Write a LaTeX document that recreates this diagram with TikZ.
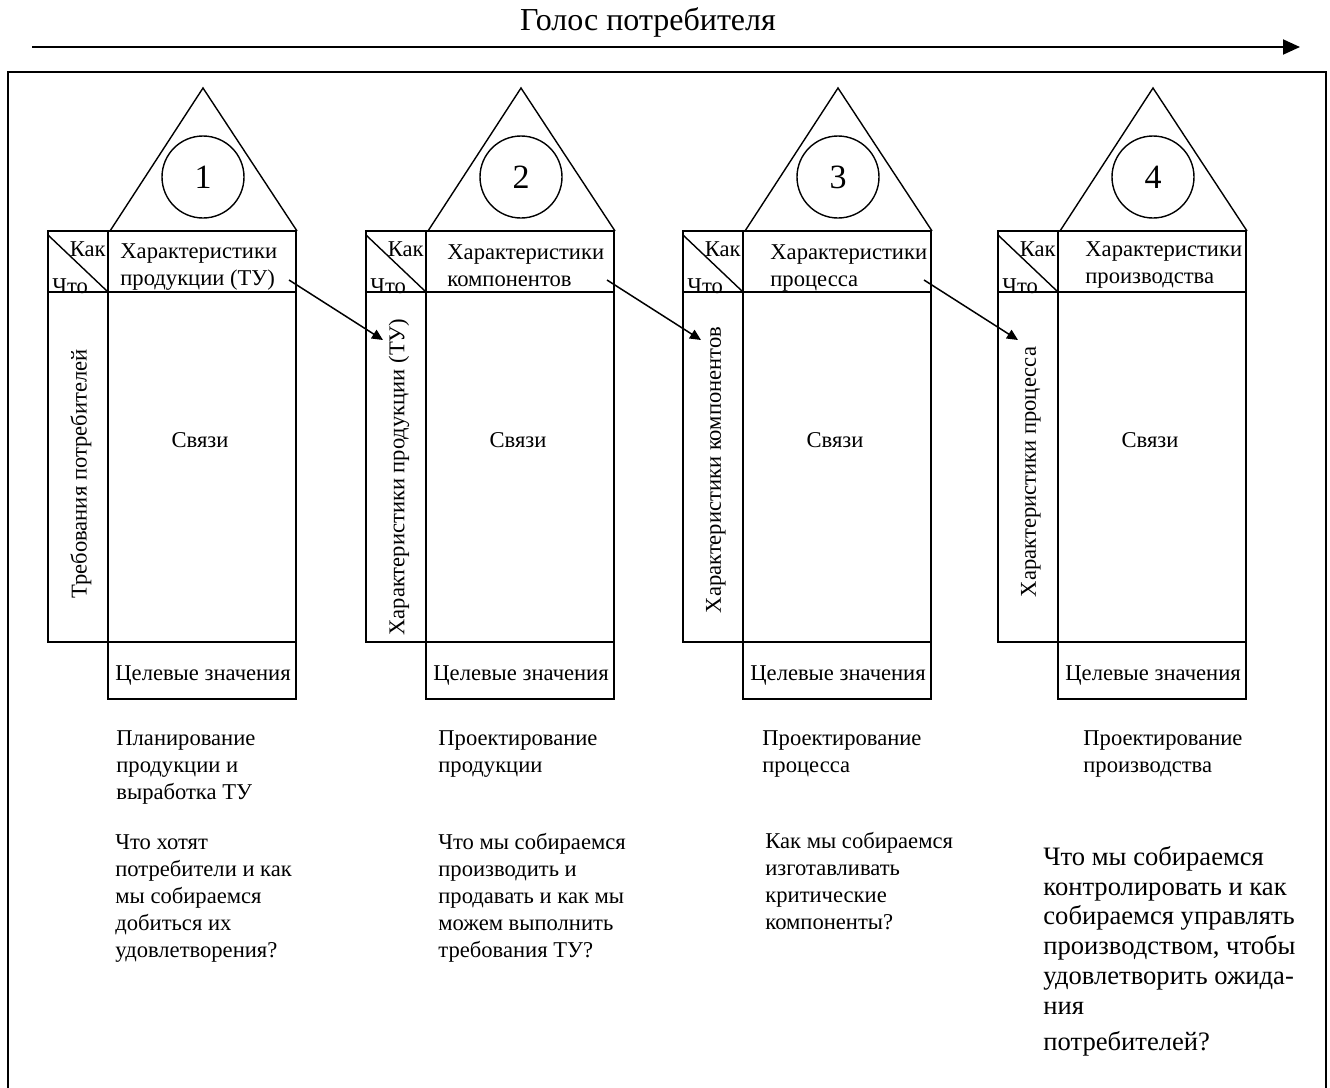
\documentclass[tikz,border=0pt]{standalone}
\usepackage{fontspec}
\setmainfont{Liberation Serif}
\usetikzlibrary{arrows.meta}
\usetikzlibrary{calc}

\tikzset{
 cell/.style={draw,line width=1pt},
 roof/.style={draw,line width=.7pt},
 txt/.style={font=\fontsize{11.3}{13.4}\selectfont,inner sep=0pt,align=left,anchor=base west},
 bigtxt/.style={txt,font=\fontsize{13.3}{14.9}\selectfont},
 link/.style={line width=.75pt,-{Triangle[length=5.5pt,width=5pt]}},
}

\begin{document}
\begin{tikzpicture}[x=.5pt,y=-.5pt]
\useasboundingbox (0,0) rectangle (1330,1088);
\draw[line width=1pt] (8,1100)--(8,72)--(1326,72)--(1326,1100);
\node[font=\fontsize{16}{19}\selectfont,anchor=base] (voice) at (648,30) {Голос потребителя};
\coordinate (vs) at (32,47);
\coordinate (ve) at (1300,47);
\draw[line width=1pt,-{Triangle[length=8.5pt,width=7.5pt]}] (vs)--(ve);
\foreach \ox [count=\i] in {48,366,683,998} {
 \draw[cell] (\ox,231) rectangle (\ox+60,642);
 \draw[cell] (\ox+60,231) rectangle (\ox+248,642);
 \draw[cell] (\ox+60,642) rectangle (\ox+248,699);
 \draw[cell] (\ox,292)--(\ox+248,292);
 \draw[line width=.7pt] (\ox,235)--(\ox+60,292);
 \draw[roof] (\ox+62,231)--(\ox+155,88)--(\ox+249,231);
 \node[roof,circle,minimum size=41pt,inner sep=0pt,font=\fontsize{17}{20}\selectfont] (num\i) at (\ox+155,177) {\i};
 \node[txt,anchor=north east] (kak\i) at (\ox+58,241) {Как};
 \node[txt] (chto\i) at (\ox+4,293) {Что};
 \node[txt,anchor=base] (svz\i) at (\ox+152,447) {Связи};
 \node[txt] (cel\i) at (\ox+67,680) {Целевые значения};
 \coordinate (out\i) at (\ox+241,280);
 \coordinate (in\i) at (\ox+335,340);
}
% multi-line nodes sit on the baseline of their last line
\node[txt] (hdr1) at (120,285) {Характеристики\\продукции (ТУ)};
\node[txt] (hdr2) at (447,286) {Характеристики\\компонентов};
\node[txt] (hdr3) at (770,286) {Характеристики\\процесса};
\node[txt] (hdr4) at (1085,283) {Характеристики\\производства};
\node[txt,rotate=90,anchor=center] (what1) at (81,474) {Требования потребителей};
\node[txt,rotate=90,anchor=center] (what2) at (399,477) {Характеристики продукции (ТУ)};
\node[txt,rotate=90,anchor=center] (what3) at (716,470) {Характеристики компонентов};
\node[txt,rotate=90,anchor=center] (what4) at (1031,472) {Характеристики процесса};
\draw[link] (out1)--(in1);
\draw[link] (out2)--(in2);
\draw[link] (out3)--(in3);
\node[txt] (stage1) at (116,799) {Планирование\\продукции и\\выработка ТУ};
\node[txt] (stage2) at (438,772) {Проектирование\\продукции};
\node[txt] (stage3) at (762,772) {Проектирование\\процесса};
\node[txt] (stage4) at (1083,772) {Проектирование\\производства};
\node[txt] (ask1) at (115,957) {Что хотят\\потребители и как\\мы собираемся\\добиться их\\удовлетворения?};
\node[txt] (ask2) at (438,957) {Что мы собираемся\\производить и\\продавать и как мы\\можем выполнить\\требования ТУ?};
\node[txt] (ask3) at (765,929) {Как мы собираемся\\изготавливать\\критические\\компоненты?};
\node[bigtxt] (ask4) at (1043,1050) {Что мы собираемся\\контролировать и как\\собираемся управлять\\производством, чтобы\\удовлетворить ожида-\\ния\\[3pt]потребителей?};
\end{tikzpicture}
\end{document}
